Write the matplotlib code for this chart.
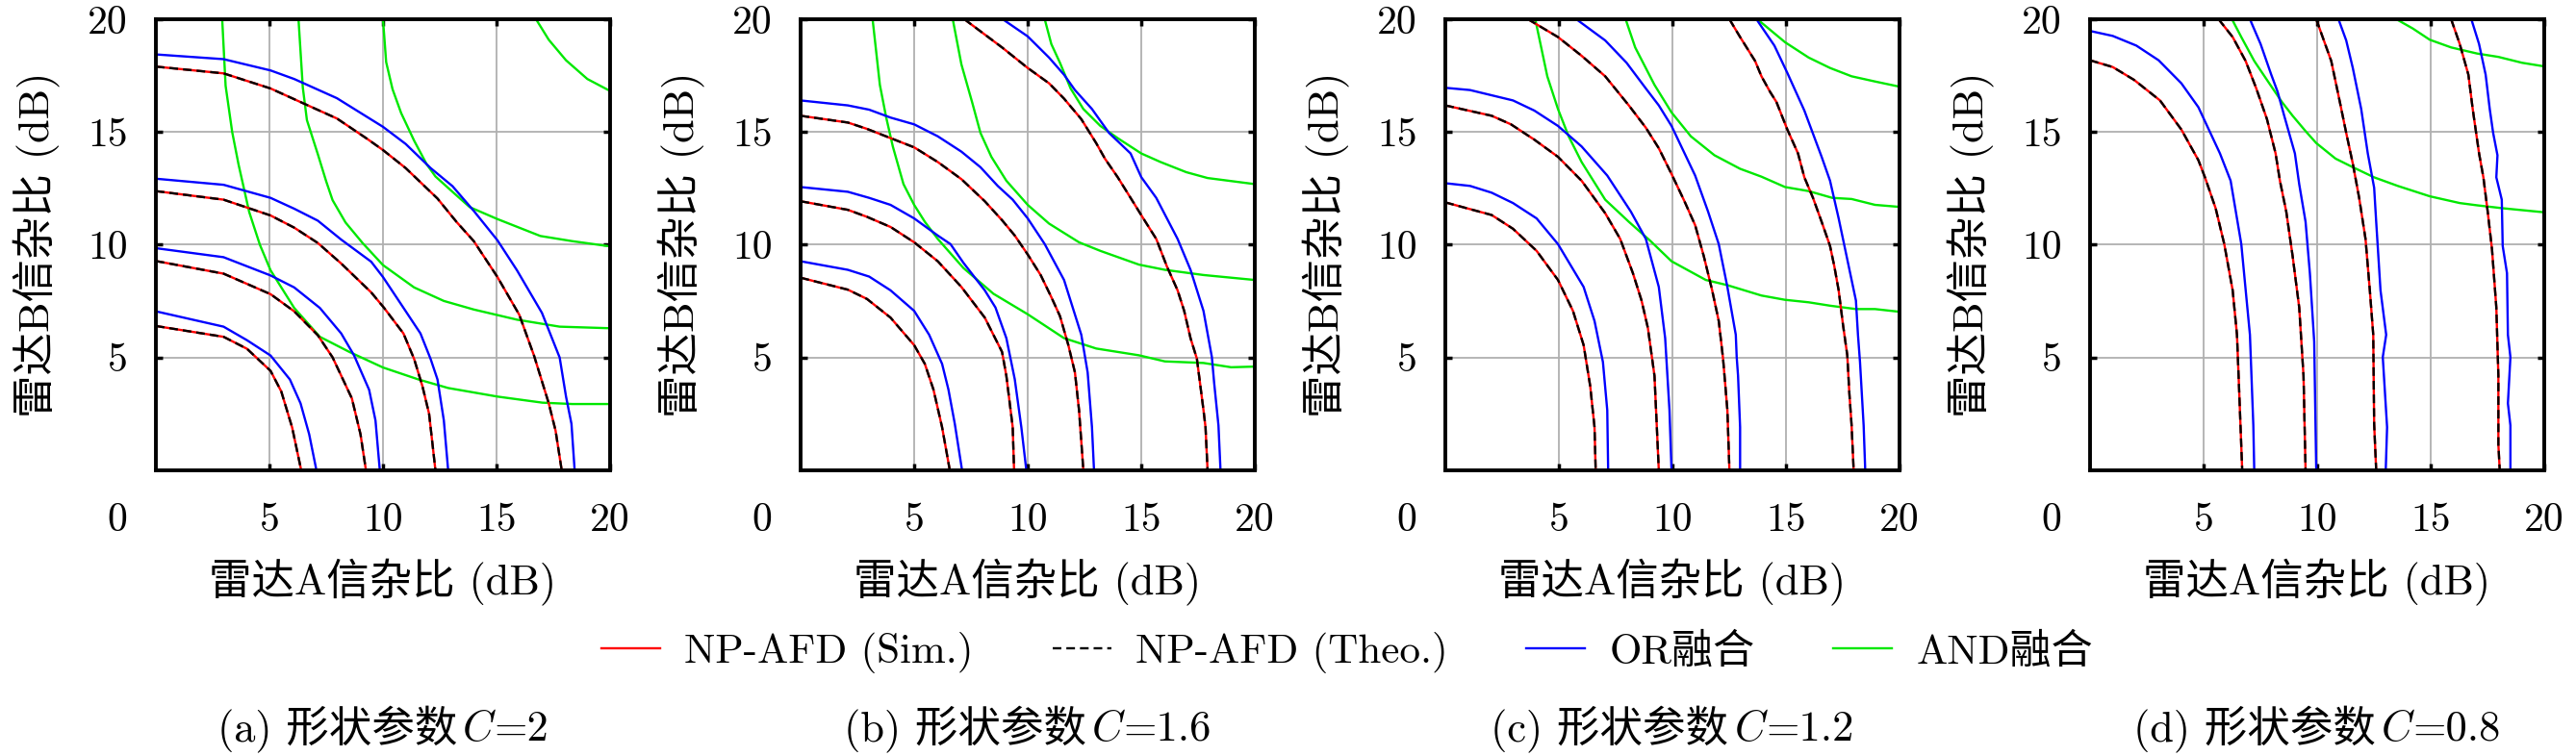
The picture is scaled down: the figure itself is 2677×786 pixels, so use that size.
import matplotlib
matplotlib.use('Agg')
import matplotlib.pyplot as plt
from matplotlib.lines import Line2D

plt.rcParams['font.family'] = ['cmr10', 'Noto Sans CJK SC']
plt.rcParams['axes.formatter.use_mathtext'] = True
plt.rcParams['font.size'] = 31

# ---- data: (SNR_A, SNR_B) points of each contour ----
# (a) C = 2
C20_NP = [
    [(0, 17.9), (2.98, 17.6), (5.05, 16.93), (6.65, 16.2), (7.97, 15.6), (9.3, 14.7), (10, 14.2), (11, 13.4),
     (12.4, 12.05), (13.25, 11.0), (14.0, 10.16), (15.04, 8.57), (16.0, 6.9), (16.65, 5.09), (17.3, 2.97),
     (17.6, 1.76), (17.87, 0)],
    [(0, 12.38), (2.98, 12.0), (5.05, 11.3), (6.09, 10.76), (7.13, 10.08), (8.16, 9.17), (9.48, 7.89),
     (10.05, 7.2), (10.9, 6.07), (11.37, 4.94), (11.74, 3.72), (12.03, 2.51), (12.31, 0)],
    [(0, 9.28), (2.98, 8.72), (5.05, 7.81), (6.09, 7.05), (7.13, 5.99), (7.78, 5.01), (8.63, 3.19),
     (9.01, 1.6), (9.25, 0)],
    [(0, 6.4), (2.98, 5.92), (4.01, 5.39), (5.05, 4.41), (5.52, 3.5), (6.0, 1.9), (6.4, 0)],
]
C20_OR = [
    [(0, 18.44), (2.98, 18.23), (5.05, 17.73), (6.09, 17.35), (7.97, 16.5), (10, 15.23), (11, 14.47),
     (12.1, 13.4), (13.06, 12.6), (14.0, 11.5), (15.04, 10.2), (15.9, 8.87), (17.0, 6.98), (17.78, 5.0),
     (18.06, 3.27), (18.3, 2.06), (18.44, 0)],
    [(0, 12.93), (2.98, 12.66), (5.05, 12.08), (6.09, 11.6), (7.13, 11.07), (8.16, 10.23), (9.48, 9.25),
     (10, 8.57), (10.8, 7.36), (11.65, 6.07), (12.1, 4.93), (12.4, 4.03), (12.68, 2.21), (12.87, 0)],
    [(0, 9.85), (2.98, 9.45), (5.05, 8.64), (6.09, 8.11), (7.22, 7.2), (8.16, 6.07), (8.73, 5.09),
     (9.39, 3.57), (9.67, 2.21), (9.86, 0)],
    [(0, 7.05), (2.98, 6.37), (4.01, 5.77), (5.05, 5.09), (5.9, 4.03), (6.37, 2.97), (6.75, 1.6), (7.07, 0)],
]
C20_AND = [
    [(2.92, 20), (3.07, 17.05), (3.36, 15.0), (3.64, 13.56), (4.11, 11.45), (4.58, 10.0), (5.05, 8.87),
     (6.09, 7.2), (7.22, 5.92), (8.54, 5.24), (10, 4.56), (11.56, 4.03), (12.87, 3.65), (15.04, 3.27),
     (17.02, 3.0), (18.34, 2.94), (20, 2.94)],
    [(6.28, 20), (6.47, 16.97), (6.65, 15.53), (7.13, 14.02), (7.5, 12.81), (7.78, 11.98), (8.35, 10.99),
     (9.1, 10.08), (10.0, 9.1), (11.37, 8.11), (12.68, 7.51), (14.0, 7.13), (15.9, 6.68), (17.78, 6.37),
     (20, 6.3)],
    [(10, 20), (10.14, 18.1), (10.42, 16.9), (10.8, 15.84), (11.37, 14.62), (11.93, 13.56), (12.31, 13.03),
     (13.06, 12.35), (13.82, 11.67), (15.04, 11.14), (16.93, 10.39), (18.34, 10.16), (20, 9.93)],
    [(16.74, 20), (17.3, 19.09), (18.06, 18.18), (19.0, 17.35), (20, 16.82)],
]

# (b) C = 1.6
C16_NP = [
    [(7.21, 20), (8.87, 18.75), (10, 17.84), (10.94, 17.16), (11.6, 16.48), (12.36, 15.57), (13.02, 14.5),
     (13.4, 13.82), (13.96, 13.0), (14.53, 12.08), (15.09, 11.17), (15.66, 10.26), (16.13, 9.04), (16.6, 7.98),
     (16.89, 7.07), (17.17, 5.86), (17.45, 4.95), (17.74, 2.67), (17.83, 1.91), (17.92, 0)],
    [(0, 15.72), (2.08, 15.42), (2.92, 15.14), (3.96, 14.73), (5.0, 14.32), (6.04, 13.67), (7.08, 12.91),
     (8.11, 11.93), (8.87, 11.09), (9.43, 10.41), (10, 9.57), (10.57, 8.66), (11.04, 7.68), (11.42, 6.84),
     (11.79, 5.55), (12.08, 4.34), (12.26, 2.67), (12.45, 0)],
    [(0, 11.93), (2.08, 11.55), (2.92, 11.24), (3.96, 10.79), (5.0, 10.11), (6.04, 9.27), (7.08, 8.13),
     (8.11, 6.77), (8.87, 5.25), (9.06, 4.19), (9.34, 1.91), (9.4, 0)],
    [(0, 8.54), (2.08, 8.01), (2.92, 7.6), (3.96, 6.77), (5.0, 5.55), (5.47, 4.72), (5.85, 3.58),
     (6.23, 1.91), (6.57, 0)],
]
C16_OR = [
    [(8.9, 20), (10, 19.24), (10.94, 18.3), (11.6, 17.54), (12.08, 16.86), (12.83, 16.02), (13.58, 14.96),
     (14.53, 14.05), (15.0, 13.0), (15.66, 12.08), (16.6, 10.26), (17.17, 8.89), (17.74, 7.07), (18.11, 5.02),
     (18.21, 3.88), (18.4, 1.99), (18.49, 0)],
    [(0, 16.4), (2.08, 16.18), (3.02, 15.99), (3.96, 15.64), (5.0, 15.34), (6.04, 14.81), (7.08, 14.13),
     (7.92, 13.44), (8.68, 12.61), (9.34, 12.0), (10, 11.17), (10.75, 10.03), (11.6, 8.44), (12.36, 6.01),
     (12.64, 4.34), (12.83, 1.91), (12.92, 0)],
    [(0, 12.56), (2.08, 12.35), (3.02, 12.08), (3.96, 11.77), (5.0, 11.17), (6.04, 10.41), (6.6, 10.03),
     (7.17, 9.2), (8.11, 7.98), (8.58, 7.22), (9.06, 5.86), (9.43, 4.04), (9.72, 1.91), (9.94, 0)],
    [(0, 9.27), (2.08, 8.89), (3.02, 8.59), (3.96, 7.98), (5.0, 7.07), (5.66, 6.01), (6.23, 4.72),
     (6.51, 3.58), (6.79, 2.06), (7.11, 0)],
]
C16_AND = [
    [(3.17, 20), (3.49, 17.09), (3.77, 15.64), (4.06, 14.36), (4.53, 12.69), (5.0, 11.77), (5.47, 11.02),
     (6.04, 10.26), (7.17, 8.97), (8.49, 7.83), (10, 6.92), (11.6, 5.86), (13.02, 5.4), (14.9, 5.1),
     (16.04, 4.83), (17.74, 4.76), (18.96, 4.57), (20, 4.6)],
    [(6.7, 20), (7.08, 18.0), (7.55, 16.33), (7.92, 14.96), (8.4, 13.9), (9.06, 12.84), (10, 11.77),
     (10.94, 10.94), (12.26, 10.11), (13.2, 9.73), (14.9, 9.12), (16.04, 8.89), (17.74, 8.66), (20, 8.44)],
    [(10.75, 20), (11.04, 18.9), (11.42, 18.07), (11.89, 16.93), (12.45, 16.02), (13.2, 15.27),
     (13.96, 14.73), (15.0, 14.05), (15.85, 13.67), (16.98, 13.22), (17.92, 12.96), (20, 12.69)],
]

# (c) C = 1.2
C12_NP = [
    [(12.51, 20), (12.98, 19.21), (13.64, 18.15), (13.92, 17.47), (14.3, 16.78), (14.58, 16.33),
     (15.06, 15.11), (15.53, 14.05), (15.81, 12.99), (16.19, 12.08), (16.57, 11.02), (16.94, 9.95),
     (17.13, 9.04), (17.32, 7.98), (17.51, 6.46), (17.7, 5.1), (17.79, 3.43), (17.89, 1.99), (17.98, 0)],
    [(3.64, 20), (4.96, 19.21), (6.0, 18.38), (7.04, 17.47), (8.08, 16.18), (8.83, 15.19), (9.4, 14.28),
     (9.96, 13.14), (10.53, 11.93), (11.0, 10.87), (11.38, 9.5), (11.75, 7.98), (12.04, 6.62), (12.23, 4.95),
     (12.42, 2.67), (12.51, 0)],
    [(0, 16.18), (2.04, 15.72), (2.89, 15.34), (3.92, 14.66), (4.96, 13.9), (6.0, 12.84), (7.04, 11.4),
     (7.7, 10.26), (8.26, 8.74), (8.64, 7.53), (8.92, 6.31), (9.21, 4.19), (9.4, 0)],
    [(0, 11.88), (2.04, 11.32), (2.98, 10.71), (4.02, 9.73), (4.96, 8.44), (5.62, 7.07), (6.09, 5.55),
     (6.38, 3.73), (6.57, 1.91), (6.62, 0)],
]
C12_OR = [
    [(13.7, 20), (14.49, 18.83), (15.06, 17.62), (15.81, 15.95), (16.57, 13.9), (16.94, 12.84), (17.32, 11.17),
     (17.7, 9.35), (18.08, 7.53), (18.17, 6.01), (18.26, 4.8), (18.42, 1.99), (18.49, 0)],
    [(5.77, 20), (7.04, 19.06), (7.98, 18.07), (8.83, 16.93), (9.4, 16.18), (9.96, 15.27), (11.0, 13.07),
     (11.57, 11.47), (12.04, 10.03), (12.42, 8.13), (12.79, 6.01), (12.83, 5.02), (12.89, 4.19),
     (12.98, 1.91), (12.98, 0)],
    [(0, 16.96), (1.09, 16.86), (2.98, 16.4), (3.92, 15.95), (4.96, 15.27), (6.0, 14.36), (7.13, 13.07),
     (8.17, 11.47), (8.83, 10.26), (9.4, 8.13), (9.68, 5.86), (9.87, 2.67), (9.96, 0)],
    [(0, 12.73), (1.09, 12.61), (2.04, 12.31), (2.98, 11.85), (4.02, 11.17), (4.96, 10.03), (6.09, 8.13),
     (6.57, 6.62), (6.94, 4.8), (7.13, 2.67), (7.17, 0)],
]
C12_AND = [
    [(3.96, 20), (4.49, 17.47), (4.96, 16.02), (5.43, 14.81), (6.0, 13.67), (7.04, 12.0), (8.08, 11.02),
     (9.02, 10.18), (9.96, 9.27), (11.47, 8.44), (12.42, 8.21), (13.92, 7.75), (14.96, 7.56), (16.0, 7.45),
     (16.94, 7.3), (18.08, 7.15), (18.92, 7.15), (20, 7.03)],
    [(7.94, 20), (8.36, 18.75), (9.21, 17.09), (9.96, 15.87), (10.81, 14.81), (11.85, 13.97), (12.98, 13.37),
     (13.92, 13.02), (14.96, 12.56), (16.0, 12.38), (17.04, 12.08), (17.89, 12.03), (18.92, 11.77),
     (20, 11.68)],
    [(13.74, 20), (14.96, 18.98), (16.0, 18.3), (16.94, 17.84), (17.89, 17.47), (18.92, 17.24), (20, 17.01)],
]

# (d) C = 0.8
C08_NP = [
    [(15.9, 20), (16.28, 18.9), (16.66, 17.54), (16.85, 16.02), (17.13, 14.05), (17.32, 12.99),
     (17.51, 11.47), (17.7, 9.8), (17.89, 7.22), (17.98, 4.19), (17.98, 1.15), (18.04, 0)],
    [(9.96, 20), (10.62, 18.15), (11.0, 16.33), (11.28, 14.96), (11.57, 13.6), (11.85, 12.08), (12.13, 10.26),
     (12.32, 7.98), (12.47, 6.01), (12.51, 2.06), (12.6, 0)],
    [(5.66, 20), (6.28, 19.21), (6.85, 18.15), (7.32, 16.93), (7.79, 15.57), (8.17, 14.05), (8.36, 12.84),
     (8.64, 11.47), (8.92, 9.5), (9.21, 7.22), (9.4, 4.19), (9.49, 0)],
    [(0, 18.18), (1.0, 17.88), (1.94, 17.31), (3.08, 16.4), (4.02, 15.11), (4.77, 13.75), (5.06, 12.99),
     (5.53, 11.62), (5.91, 10.03), (6.28, 7.98), (6.47, 6.01), (6.57, 3.43), (6.7, 0)],
]
C08_OR = [
    [(16.79, 20), (17.13, 18.9), (17.42, 17.54), (17.6, 16.02), (17.75, 14.96), (17.94, 13.97),
     (17.89, 12.99), (18.13, 12.0), (18.17, 9.95), (18.36, 8.74), (18.4, 6.01), (18.51, 5.02), (18.4, 2.97),
     (18.51, 1.99), (18.51, 0)],
    [(10.94, 20), (11.28, 19.06), (11.57, 17.84), (11.94, 16.02), (12.23, 14.05), (12.51, 12.53),
     (12.6, 11.02), (12.79, 7.98), (13.04, 6.01), (12.89, 5.02), (13.08, 1.91), (13.02, 0)],
    [(7.04, 20), (7.51, 18.9), (7.98, 17.54), (8.26, 16.78), (8.55, 15.72), (9.02, 14.05), (9.21, 12.69),
     (9.49, 11.02), (9.68, 8.74), (9.87, 5.71), (9.96, 0)],
    [(0, 19.48), (1.0, 19.26), (2.04, 18.83), (3.02, 18.18), (4.02, 17.16), (4.77, 16.1), (5.72, 14.05),
     (6.19, 12.84), (6.66, 10.03), (7.04, 6.01), (7.19, 1.99), (7.23, 0)],
]
C08_AND = [
    [(6.25, 20), (6.66, 19.21), (7.23, 18.15), (7.89, 17.16), (8.45, 16.33), (8.92, 15.72), (9.49, 15.04),
     (9.96, 14.51), (10.81, 13.82), (11.57, 13.44), (12.51, 12.99), (13.55, 12.61), (14.96, 12.15),
     (16.28, 11.85), (17.04, 11.75), (18.17, 11.62), (20, 11.44)],
    [(13.49, 20), (14.21, 19.59), (14.96, 19.09), (15.9, 18.75), (17.04, 18.48), (17.98, 18.33),
     (19.02, 18.07), (20, 17.91)],
]

# caption = prefix + italic C + value
cap_prefix = ['(a) 形状参数', '(b) 形状参数', '(c) 形状参数', '(d) 形状参数']
cap_value = ['=2', '=1.6', '=1.2', '=0.8']
np_sets = [C20_NP, C16_NP, C12_NP, C08_NP]
or_sets = [C20_OR, C16_OR, C12_OR, C08_OR]
and_sets = [C20_AND, C16_AND, C12_AND, C08_AND]
tick_vals = [5, 10, 15, 20]
legend_labels = ['NP-AFD (Sim.)', 'NP-AFD (Theo.)', 'OR融合', 'AND融合']

GREEN = '#00e800'
DASH = (0, (3.8, 2.2))
LW = 1.7

W, H = 2677, 786
fig = plt.figure(figsize=(W / 100, H / 100), dpi=100)
renderer = fig.canvas.get_renderer()


def mixed_caption(cx_px, base_px, pieces, size):
    """ draws a row of text pieces in different fonts, centred at cx_px, on a shared baseline """
    objs = []
    for s, fam in pieces:
        kw = {'family': fam} if fam else {}
        objs.append(fig.text(0, 1 - base_px / H, s, ha='left', va='baseline', fontsize=size, **kw))
    widths = [t.get_window_extent(renderer).width for t in objs]
    gaps = [6, 1, 0]
    total = sum(widths) + sum(gaps[:len(objs) - 1])
    x = cx_px - total / 2
    for t, w, g in zip(objs, widths, gaps):
        t.set_x(x / W)
        x += w + g


ax_lefts = [162, 832, 1502, 2172]
ax_w = 472
ax_top, ax_bot = 20, 489
ax_h = ax_bot - ax_top

for i, left in enumerate(ax_lefts):
    ax = fig.add_axes([left / W, 1 - ax_bot / H, ax_w / W, ax_h / H])

    for c in and_sets[i]:
        xs, ys = zip(*c)
        ax.plot(xs, ys, color=GREEN, lw=LW, zorder=2)
    for c in or_sets[i]:
        xs, ys = zip(*c)
        ax.plot(xs, ys, color='blue', lw=LW, zorder=2)
    for c in np_sets[i]:
        xs, ys = zip(*c)
        ax.plot(xs, ys, color='red', lw=LW, zorder=3)
        ax.plot(xs, ys, color='black', lw=LW, ls=DASH, zorder=4)

    ax.set_xlim(0, 20)
    ax.set_ylim(0, 20)
    ax.set_xticks(tick_vals)
    ax.set_xticklabels([str(v) for v in tick_vals])
    ax.set_yticks(tick_vals)
    ax.set_yticklabels([str(v) for v in tick_vals])
    ax.grid(True, color='#b0b0b0', lw=1.3, zorder=0)
    ax.set_axisbelow(True)
    ax.tick_params(direction='in', top=True, right=True, length=5, width=2.5, labelsize=30)
    ax.tick_params(axis='x', pad=24)
    ax.tick_params(axis='y', pad=21)
    for s in ax.spines.values():
        s.set_linewidth(2.8)
        s.set_zorder(5)

    # corner "0" label sitting left of the origin
    ax.text(-40 / ax_w, -34 / ax_h, '0', transform=ax.transAxes, ha='center', va='top', fontsize=30)

    cx = left + ax_w / 2
    fig.text(cx / W, 1 - 605 / H, '雷达A信杂比 (dB)', ha='center', va='center', fontsize=32)
    fig.text((left - 124) / W, 1 - (ax_top + ax_h / 2) / H, '雷达B信杂比 (dB)',
             ha='center', va='center', rotation=90, fontsize=32)
    mixed_caption(cx, 770, [(cap_prefix[i], None), ('C', ['cmmi10']), (cap_value[i], None)], 32)

handles = [
    Line2D([], [], color='red', lw=LW),
    Line2D([], [], color='black', lw=LW, ls=DASH),
    Line2D([], [], color='blue', lw=LW),
    Line2D([], [], color=GREEN, lw=LW),
]
fig.legend(handles, legend_labels, loc='center', bbox_to_anchor=(1400 / W, 1 - 679 / H), ncol=4,
           frameon=False, fontsize=31, handlelength=1.42, handletextpad=0.58, columnspacing=1.9)

fig.savefig('out.png', dpi=100)
